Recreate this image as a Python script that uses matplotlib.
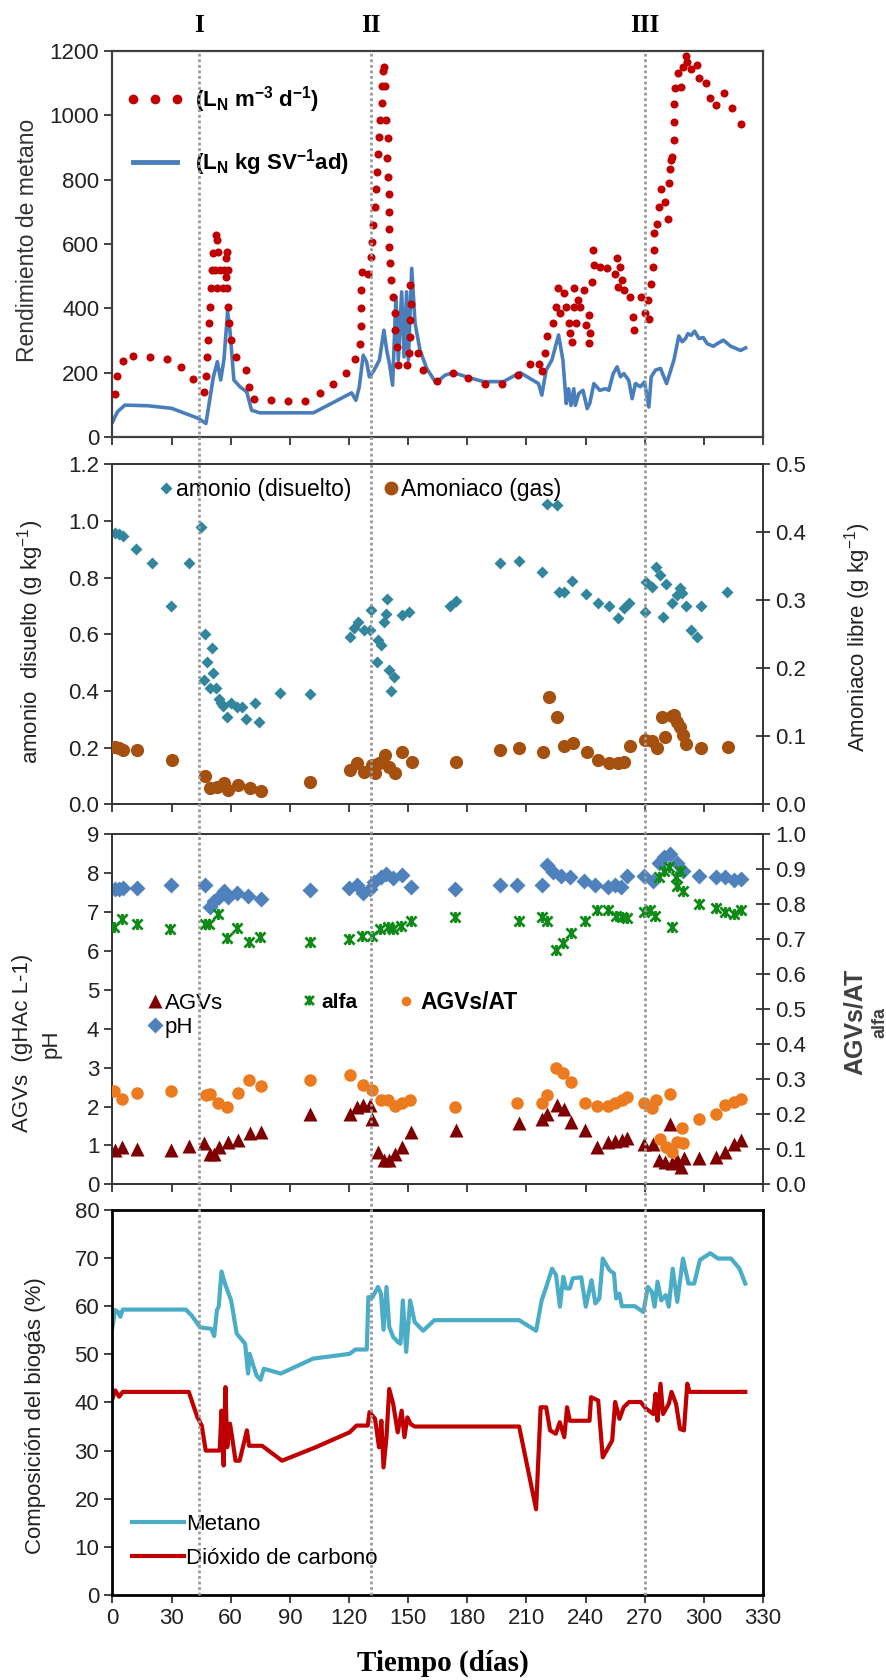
import matplotlib
matplotlib.use("Agg")
import matplotlib.pyplot as plt
from matplotlib.lines import Line2D
from matplotlib.path import Path
from matplotlib.transforms import blended_transform_factory

plt.rcParams["font.family"] = ["Liberation Sans", "DejaVu Sans"]
plt.rcParams["mathtext.fontset"] = "custom"
plt.rcParams["mathtext.rm"] = "Liberation Sans"
plt.rcParams["mathtext.bf"] = "Liberation Sans:bold"
plt.rcParams["mathtext.default"] = "regular"

# ===================== datos =====================
fases = [43.7, 131.3, 270.0]
fases_txt = ["I", "II", "III"]

# panel 1: rendimiento de metano
prod_x = [1.4, 2.3, 5.2, 10.6, 18.9, 27.5, 34.7, 40.7, 46.6, 47.4, 48.1, 48.6, 49.0, 49.5, 49.9,
          50.5, 51.2, 52.5, 53.0, 53.7, 52.0, 54.5, 53.2, 55.9, 57.9, 56.6, 58.8, 57.6, 58.3, 57.5,
          58.8, 59.3, 60.2, 62.6, 67.7, 69.2, 71.8, 80.3, 89.1, 97.9, 105.2, 111.9, 118.7, 122.9,
          125.5, 126.0, 126.0, 126.3, 126.8, 129.4, 131.1, 131.9, 132.4, 133.1, 133.6, 134.0, 134.5,
          135.3, 135.6, 136.5, 136.8, 137.3, 137.5, 138.1, 139.0, 139.8, 139.5, 139.8, 140.2, 140.3,
          140.3, 140.3, 140.8, 141.5, 142.4, 143.2, 143.2, 144.1, 144.9, 149.6, 150.3, 150.8, 150.8,
          151.6, 150.8, 155.0, 157.6, 164.5, 172.6, 180.6, 189.1, 197.5, 205.5, 211.9, 216.6, 217.8,
          219.5, 220.3, 223.7, 225.1, 225.8, 227.2, 228.9, 230.2, 231.4, 232.3, 233.1, 234.0, 234.3,
          235.3, 236.0, 237.3, 239.0, 240.4, 241.6, 242.4, 241.6, 243.5, 244.0, 244.4, 247.1, 250.8,
          255.9, 255.0, 257.5, 258.4, 256.4, 259.7, 262.6, 264.3, 264.8, 268.1, 270.1, 271.5, 272.3,
          273.1, 274.0, 274.5, 274.8, 276.2, 277.4, 278.3, 280.3, 281.6, 282.5, 283.0, 283.4, 283.7,
          285.0, 285.0, 285.0, 285.5, 288.4, 287.0, 289.2, 290.9, 291.7, 293.7, 296.4, 297.6, 301.0,
          303.2, 306.1, 310.0, 314.5, 318.8]
prod_y = [134, 188, 235, 253, 248, 243, 216, 180, 139, 191, 249, 302, 354, 405, 463,
          519, 571, 628, 612, 576, 519, 519, 462, 462, 462, 519, 519, 498, 576, 555,
          405, 354, 302, 249, 208, 156, 117, 114, 112, 111, 137, 166, 199, 243,
          289, 346, 401, 457, 512, 507, 559, 606, 658, 715, 772, 824, 881,
          933, 985, 1039, 1091, 1138, 1150, 1091, 985, 928, 867, 809, 756, 700,
          646, 592, 540, 488, 436, 385, 333, 281, 223, 223, 260, 311, 363,
          414, 471, 260, 208, 175, 198, 182, 166, 166, 192, 226, 228, 206,
          260, 314, 355, 405, 462, 384, 447, 405, 353, 322, 296, 462, 405,
          353, 426, 405, 457, 349, 380, 322, 291, 482, 580, 534, 529, 524,
          555, 508, 529, 487, 467, 456, 435, 373, 332, 435, 384, 425, 368,
          477, 529, 580, 633, 663, 716, 770, 730, 678, 788, 834, 860, 871,
          924, 979, 1034, 1085, 1088, 1130, 1149, 1185, 1164, 1143, 1155, 1117, 1101,
          1055, 1032, 1068, 1023, 974]

rend_x = [0.1, 2.5, 6.3, 18, 30, 43.5, 47.4, 51.2, 53.2, 54.9, 56.6, 58.4, 59.6, 61.6, 64.7, 68.1,
          70.6, 74.8, 101.9, 121.3, 123.5, 125.2, 127.2, 128.9, 130.3, 132.3, 135.4, 137.7, 139.1,
          140.5, 142.1, 143.8, 145.0, 146.7, 147.9, 149.2, 150.1, 151.8, 153.5, 156.0, 159.4, 164.1,
          168.7, 172.9, 180.6, 188.2, 198.3, 206.8, 216.1, 217.8, 220.0, 222.9, 226.3, 228.5, 230.2,
          231.4, 232.6, 234.0, 234.8, 236.5, 238.7, 240.8, 242.1, 244.2, 247.2, 250.1, 251.8, 254.0,
          256.0, 257.7, 259.4, 261.9, 263.6, 265.3, 267.8, 269.9, 272.1, 273.3, 275.5, 278.0, 281.1,
          284.8, 287.3, 289.0, 290.7, 291.9, 293.6, 295.3, 297.5, 299.7, 301.7, 304.8, 306.8, 309.9,
          313.6, 318.6, 321.2]
rend_y = [47, 78, 99, 97, 89, 58, 42, 187, 234, 177, 243, 390, 330, 177, 156, 140,
          83, 75, 75, 137, 114, 156, 254, 234, 187, 203, 239, 332, 270,
          228, 161, 436, 239, 451, 249, 451, 239, 524, 353, 270, 213, 168,
          192, 200, 185, 172, 172, 200, 166, 130, 208, 239, 317, 239, 104,
          150, 98, 150, 98, 135, 145, 88, 104, 166, 145, 150, 145, 197,
          218, 187, 197, 176, 119, 166, 156, 171, 93, 187, 208, 213, 166,
          239, 314, 296, 306, 321, 316, 329, 306, 309, 290, 282, 290, 301,
          282, 269, 277]

# panel 2: amonio / amoniaco
amonio_x = [1.4, 3.4, 5.2, 12.0, 20.0, 29.5, 38.7, 44.7, 47.0, 46.4, 48.1, 50.4, 51.0, 49.6, 52.4,
            53.9, 55.0, 56.2, 57.9, 60.2, 63.0, 65.9, 67.9, 72.2, 74.5, 85.1, 100.0, 120.3, 122.6,
            124.6, 127.5, 130.4, 131.0, 134.7, 136.2, 134.1, 137.5, 139.0, 139.2, 140.4, 142.7,
            141.2, 146.7, 150.4, 171.0, 174.5, 196.8, 206.2, 217.7, 220.5, 225.3, 226.3, 229.0,
            233.3, 240.4, 246.4, 252.0, 256.4, 259.3, 262.1, 270.0, 270.7, 273.6, 275.7, 278.0,
            279.3, 281.0, 283.6, 286.5, 288.0, 288.8, 290.8, 293.7, 296.6, 298.5, 311.7]
amonio_y = [0.958, 0.955, 0.946, 0.899, 0.85, 0.70, 0.85, 0.979, 0.60, 0.44, 0.503, 0.553, 0.462,
            0.409, 0.409, 0.370, 0.358, 0.348, 0.309, 0.356, 0.344, 0.344, 0.301, 0.358, 0.291,
            0.391, 0.389, 0.591, 0.621, 0.644, 0.615, 0.615, 0.685, 0.579, 0.562, 0.503, 0.644,
            0.673, 0.723, 0.474, 0.448, 0.401, 0.668, 0.679, 0.700, 0.717, 0.85, 0.859, 0.818,
            1.059, 1.055, 0.75, 0.75, 0.789, 0.742, 0.709, 0.70, 0.656, 0.691, 0.709, 0.679,
            0.785, 0.767, 0.838, 0.809, 0.662, 0.777, 0.711, 0.738, 0.762, 0.744, 0.70, 0.615,
            0.591, 0.70, 0.75]

amoniaco_x = [1.4, 3.4, 5.2, 12.3, 30.1, 46.7, 49.3, 53.0, 56.7, 58.7, 63.6, 69.6, 75.3, 100.0,
              120.3, 124.0, 127.5, 131.8, 133.2, 135.2, 138.4, 140.4, 143.3, 147.0, 151.9, 174.5,
              196.8, 206.2, 218.3, 221.2, 225.5, 229.2, 233.5, 240.7, 246.4, 252.0, 256.4, 259.3,
              262.7, 270.0, 273.6, 276.0, 278.6, 280.3, 283.6, 285.0, 286.5, 288.0, 289.4, 290.8,
              298.5, 312.3]
amoniaco_y = [0.0837, 0.0823, 0.0798, 0.0798, 0.0651, 0.0416, 0.0235, 0.026, 0.031, 0.021, 0.028,
              0.0235, 0.0196, 0.0333, 0.0504, 0.0612, 0.048, 0.0578, 0.0455, 0.0602, 0.0725,
              0.0553, 0.0465, 0.0774, 0.0627, 0.0627, 0.0798, 0.0823, 0.0774, 0.157, 0.128, 0.0857,
              0.0896, 0.0774, 0.0651, 0.0612, 0.0602, 0.0627, 0.0857, 0.0945, 0.0935, 0.0823,
              0.1288, 0.0994, 0.130, 0.131, 0.1215, 0.113, 0.102, 0.088, 0.0823, 0.0847]

# panel 3: pH, AGVs, alfa, AGVs/AT
ph_x = [1.4, 3.4, 5.2, 12.3, 29.5, 46.7, 49.3, 51.6, 53.9, 56.7, 58.7, 63.0, 68.8, 75.1, 100.0,
        119.8, 123.8, 126.9, 130.4, 132.7, 136.2, 139.0, 142.4, 146.7, 151.3, 173.9, 196.8, 205.4,
        217.7, 220.6, 223.4, 227.7, 232.0, 239.2, 244.9, 251.5, 254.9, 257.8, 261.2, 269.8, 274.4,
        277.0, 279.8, 283.0, 286.5, 289.4, 297.4, 306.0, 310.9, 315.2, 318.7]
ph_y = [7.59, 7.59, 7.62, 7.62, 7.68, 7.68, 7.14, 7.29, 7.38, 7.55, 7.38, 7.50, 7.42, 7.33, 7.56,
        7.62, 7.70, 7.50, 7.59, 7.76, 7.89, 7.97, 7.87, 7.96, 7.65, 7.59, 7.68, 7.68,
        7.68, 8.21, 8.02, 7.93, 7.89, 7.80, 7.68, 7.65, 7.68, 7.65, 7.93, 7.93, 7.80,
        8.27, 8.40, 8.49, 8.27, 8.06, 7.93, 7.91, 7.89, 7.82, 7.85]

agv_x = [1.4, 4.9, 12.3, 29.5, 38.7, 46.4, 49.3, 51.6, 53.9, 58.7, 63.6, 69.6, 75.1, 100.0, 120.3,
         123.8, 126.9, 130.4, 131.8, 134.7, 137.5, 140.4, 143.3, 146.7, 151.3, 174.2, 206.2, 217.7,
         220.6, 225.5, 229.2, 232.6, 239.8, 245.9, 251.5, 254.9, 258.4, 261.2, 269.8, 274.4, 277.3,
         280.2, 283.0, 283.6, 286.5, 288.5, 289.9, 297.7, 306.0, 310.9, 315.2, 318.7]
agv_y = [0.88, 0.97, 0.90, 0.88, 0.98, 1.07, 0.78, 0.79, 0.97, 1.09, 1.15, 1.32, 1.35, 1.82, 1.82,
         1.99, 2.03, 2.03, 1.67, 0.84, 0.62, 0.62, 0.79, 0.97, 1.35, 1.39, 1.58, 1.69,
         1.82, 2.03, 1.95, 1.61, 1.39, 0.97, 1.09, 1.12, 1.15, 1.18, 1.05, 1.05, 0.62,
         0.58, 1.56, 0.54, 0.62, 0.45, 0.67, 0.67, 0.71, 0.84, 1.05, 1.14]

alfa_x = [0.6, 4.9, 12.3, 29.2, 47.0, 49.0, 53.3, 57.9, 63.3, 69.3, 74.8, 100.0, 120.1, 126.7,
          131.6, 135.9, 139.6, 142.4, 146.4, 151.2, 173.9, 206.2, 217.9, 220.6, 224.9, 228.3,
          232.6, 239.8, 245.9, 251.5, 255.5, 258.4, 261.2, 269.8, 272.6, 275.0, 277.3, 279.9,
          282.2, 283.6, 285.7, 288.0, 286.5, 289.4, 297.4, 306.0, 310.9, 315.2, 318.7]
alfa_y = [0.736, 0.758, 0.742, 0.729, 0.742, 0.742, 0.772, 0.704, 0.732, 0.691, 0.706, 0.691,
          0.701, 0.710, 0.710, 0.729, 0.736, 0.729, 0.739, 0.751, 0.763, 0.751, 0.763, 0.751,
          0.668, 0.689, 0.717, 0.751, 0.783, 0.782, 0.767, 0.763, 0.761, 0.777, 0.783, 0.767,
          0.878, 0.896, 0.905, 0.736, 0.877, 0.896, 0.853, 0.839, 0.801, 0.789, 0.777, 0.772,
          0.782]

agvat_x = [0.6, 4.9, 12.3, 29.5, 47.3, 49.3, 53.6, 58.2, 63.6, 69.3, 75.1, 100.0, 120.3, 126.9,
           131.8, 136.2, 139.6, 143.3, 146.7, 151.0, 173.9, 205.4, 217.7, 220.6, 224.9, 228.6,
           232.6, 239.8, 245.9, 251.5, 254.9, 258.4, 261.2, 269.8, 273.6, 275.7, 278.0, 280.9,
           283.0, 283.6, 286.5, 288.8, 289.4, 297.4, 306.0, 310.9, 315.2, 318.7]
agvat_y = [0.267, 0.245, 0.261, 0.267, 0.255, 0.259, 0.231, 0.221, 0.261, 0.297, 0.280, 0.299,
           0.311, 0.283, 0.269, 0.242, 0.242, 0.223, 0.231, 0.242, 0.221, 0.233, 0.233, 0.255,
           0.333, 0.318, 0.292, 0.231, 0.223, 0.223, 0.233, 0.240, 0.250, 0.231, 0.217, 0.240,
           0.131, 0.107, 0.259, 0.093, 0.122, 0.160, 0.119, 0.188, 0.202, 0.226, 0.236, 0.245]

# panel 4: composicion del biogas
met_x = [0, 1.4, 2.9, 4.0, 5.2, 37.2, 40.1, 44.5, 50.1, 51.6, 53.0, 53.9, 55.3, 57.3, 60.2, 63.0,
         67.3, 68.8, 69.6, 71.1, 73.1, 75.1, 76.8, 85.4, 101.7, 120.3, 123.2, 129.0, 129.8, 131.8,
         134.7, 136.2, 137.5, 139.0, 140.4, 142.4, 144.7, 146.1, 147.3, 149.0, 151.0, 153.3, 157.6,
         163.3, 206.3, 214.9, 217.7, 219.8, 223.0, 225.0, 227.0, 228.7, 230.1, 232.0, 233.5, 237.8,
         240.1, 243.0, 245.0, 247.0, 248.7, 252.1, 254.4, 255.5, 257.2, 258.4, 265.0, 269.3, 271.6,
         273.6, 275.0, 276.5, 278.4, 280.7, 282.2, 284.2, 286.5, 289.4, 292.2, 295.1, 298.0, 303.2,
         307.2, 313.8, 318.1, 321.0]
met_y = [55.7, 59.2, 58.8, 57.8, 59.3, 59.3, 58.1, 55.6, 55.3, 53.8, 59.2, 59.9, 67.2, 64.4, 61.2,
         54.3, 52.2, 46.0, 50.1, 48.1, 45.6, 44.7, 47.0, 46.0, 49.1, 50.1, 51.0, 51.0, 61.9, 61.8,
         64.0, 62.6, 55.1, 64.0, 55.7, 53.6, 52.6, 52.2, 61.2, 50.5, 61.2, 56.7, 54.9,
         57.1, 57.1, 54.9, 61.2, 63.7, 67.8, 66.5, 59.9, 66.1, 63.7, 63.7, 65.8, 66.0,
         59.9, 65.4, 60.6, 61.6, 69.9, 67.5, 66.8, 61.6, 62.6, 60.0, 60.0, 58.8, 64.0,
         63.0, 59.9, 65.1, 61.2, 62.3, 59.9, 67.8, 60.9, 69.9, 64.7, 64.7, 69.6, 71.0,
         69.9, 69.9, 67.8, 64.7]

co2_x = [0, 1.4, 3.4, 5.2, 38.7, 43.0, 45.3, 47.3, 54.4, 55.3, 56.4, 57.3, 58.2, 59.6, 60.7, 62.4,
         64.5, 68.2, 69.3, 75.9, 86.0, 103.1, 120.3, 123.8, 129.5, 130.4, 133.2, 135.2, 136.4,
         137.5, 139.0, 140.4, 142.4, 144.7, 146.7, 148.1, 149.6, 151.3, 153.3, 206.3, 214.9, 217.2,
         220.0, 222.0, 224.9, 226.9, 229.2, 230.6, 232.0, 242.0, 242.8, 246.4, 248.7, 253.5, 255.0,
         257.2, 259.3, 262.1, 267.9, 270.7, 274.4, 275.5, 276.5, 278.0, 279.3, 282.2, 283.6, 285.9,
         287.9, 289.9, 291.6, 292.7, 321.0]
co2_y = [40.8, 42.5, 41.2, 42.2, 42.2, 37.0, 35.2, 30.0, 30.0, 38.3, 26.9, 43.2, 30.7, 35.6, 32.8,
         27.9, 27.9, 34.2, 31.0, 31.0, 27.9, 30.7, 33.8, 35.2, 35.2, 38.0, 36.6, 30.7, 36.2,
         26.5, 32.8, 42.8, 39.7, 33.8, 38.3, 32.8, 36.9, 35.5, 35.0, 35.0, 17.8, 39.0,
         39.0, 34.2, 33.5, 35.9, 32.8, 39.0, 36.2, 36.2, 41.1, 40.4, 28.6, 32.1, 40.1,
         36.6, 39.0, 40.1, 40.1, 38.7, 37.6, 41.8, 36.2, 43.9, 37.6, 39.7, 42.2, 39.7,
         34.5, 34.2, 43.9, 42.2, 42.2]

# ===================== figura =====================
fig = plt.figure(figsize=(8.87, 16.8), dpi=100)
L, W = 0.1268, 0.7334
ax1 = fig.add_axes([L, 0.7399, W, 0.2298])
ax2 = fig.add_axes([L, 0.5213, W, 0.2024])
ax3 = fig.add_axes([L, 0.2950, W, 0.2085])
ax4 = fig.add_axes([L, 0.0506, W, 0.2292])
ax2b = ax2.twinx()
ax3b = ax3.twinx()

TICK = 16
for ax in [ax1, ax2, ax3, ax4]:
    ax.set_xlim(0, 330)
    ax.set_xticks(range(0, 331, 30))
    ax.tick_params(direction="out", length=6, width=1.2, labelsize=TICK, colors="#222222")
    if ax is not ax4:
        ax.tick_params(axis="x", labelbottom=False)

# --- panel 1 ---
ax1.plot(prod_x, prod_y, "o", color="#C00000", ms=5.8, mec="none", zorder=3)
ax1.plot(rend_x, rend_y, "-", color="#4A7EBB", lw=2.6, zorder=2)
ax1.set_ylim(0, 1200)
ax1.set_yticks(range(0, 1201, 200))
for s in ax1.spines.values():
    s.set_color("#404040")
    s.set_linewidth(1.6)
h1 = Line2D([], [], marker="o", ls="none", color="#C00000", ms=7, mec="none")
h2 = Line2D([], [], ls="-", color="#4A7EBB", lw=3.5)
ax1.legend([h1, h2], [r"(L$_\mathbf{N}$ m$^\mathbf{-3}$ d$^\mathbf{-1}$)",
                      r"(L$_\mathbf{N}$ kg SV$^\mathbf{-1}$ad)"],
           loc="upper left", bbox_to_anchor=(-0.01, 0.965), frameon=False,
           numpoints=3, handlelength=2.6, handletextpad=0.5, labelspacing=1.45,
           prop={"size": 16, "weight": "bold"})

# --- panel 2 ---
ax2.plot(amonio_x, amonio_y, "D", color="#31859C", ms=6.5, mec="none", zorder=3)
ax2b.plot(amoniaco_x, amoniaco_y, "o", color="#A5500F", ms=9.5, mec="none", zorder=3)
ax2.set_ylim(0, 1.2)
ax2.set_yticks([0, 0.2, 0.4, 0.6, 0.8, 1.0, 1.2])
ax2.set_yticklabels(["%.1f" % v for v in [0, 0.2, 0.4, 0.6, 0.8, 1.0, 1.2]])
ax2b.set_ylim(0, 0.5)
ax2b.set_yticks([0, 0.1, 0.2, 0.3, 0.4, 0.5])
ax2b.set_yticklabels(["%.1f" % v for v in [0, 0.1, 0.2, 0.3, 0.4, 0.5]])
ax2b.tick_params(axis="y", direction="inout", length=10, width=1.2, labelsize=TICK, colors="#222222")
hA = Line2D([], [], marker="D", ls="none", color="#31859C", ms=6.5, mec="none")
hB = Line2D([], [], marker="o", ls="none", color="#A5500F", ms=10, mec="none")
ax2.legend([hA, hB], ["amonio (disuelto)", "Amoniaco (gas)"], loc="upper left",
           bbox_to_anchor=(0.04, 1.02), ncol=2, frameon=False, handlelength=0.6,
           handletextpad=0.15, columnspacing=1.4, fontsize=16.5)

# --- panel 3 ---
alfa_marker = Path([(-1, -1), (1, 1), (-1, 1), (1, -1), (0, -1.1), (0, 1.1)],
                   [Path.MOVETO, Path.LINETO] * 3)
ax3.plot(agv_x, agv_y, "^", color="#7F0000", ms=10, mec="none", zorder=3)
ax3.plot(ph_x, ph_y, "D", color="#4F81BD", ms=8.5, mec="none", zorder=3)
ax3b.plot(alfa_x, alfa_y, ls="none", marker=alfa_marker, ms=8, mfc="none", mec="#0E8A16",
          mew=2.0, zorder=3)
ax3b.plot(agvat_x, agvat_y, "o", color="#EC7A1E", ms=9, mec="none", zorder=3)
ax3.set_ylim(0, 9)
ax3.set_yticks(range(0, 10))
ax3b.set_ylim(0, 1.0)
ax3b.set_yticks([i / 10 for i in range(11)])
ax3b.set_yticklabels(["%.1f" % (i / 10) for i in range(11)])
ax3b.tick_params(axis="y", direction="inout", length=10, width=1.2, labelsize=TICK, colors="#222222")

hG = Line2D([], [], marker="^", ls="none", color="#7F0000", ms=10, mec="none")
hP = Line2D([], [], marker="D", ls="none", color="#4F81BD", ms=8.5, mec="none")
hF = Line2D([], [], marker=alfa_marker, ls="none", ms=7, mfc="none", mec="#0E8A16", mew=2.0)
hR = Line2D([], [], marker="o", ls="none", color="#EC7A1E", ms=7, mec="none")
legA = ax3.legend([hG, hP], ["AGVs", "pH"], loc="center left", bbox_to_anchor=(0.055, 0.482),
                  frameon=False, handlelength=0.6, handletextpad=0.15, labelspacing=0.15,
                  borderaxespad=0, borderpad=0, fontsize=16)
ax3.add_artist(legA)
legB = ax3.legend([hF], ["alfa"], loc="center left", bbox_to_anchor=(0.293, 0.52),
                  frameon=False, handlelength=0.6, handletextpad=0.3, borderaxespad=0,
                  borderpad=0, prop={"size": 15, "weight": "bold"})
ax3.add_artist(legB)
ax3.legend([hR], ["AGVs/AT"], loc="center left", bbox_to_anchor=(0.44, 0.52),
           frameon=False, handlelength=0.6, handletextpad=0.35, borderaxespad=0,
           borderpad=0, prop={"size": 16.5, "weight": "bold"})

# --- panel 4 ---
ax4.plot(met_x, met_y, "-", color="#4BACC6", lw=3.0, label="Metano")
ax4.plot(co2_x, co2_y, "-", color="#C00000", lw=3.0, label="Dióxido de carbono")
ax4.set_ylim(0, 80)
ax4.set_yticks(range(0, 81, 10))
for s in ax4.spines.values():
    s.set_color("black")
    s.set_linewidth(2.0)
ax4.legend(loc="lower left", bbox_to_anchor=(0.0, 0.015), frameon=False, handlelength=2.3,
           handletextpad=0.1, labelspacing=0.6, fontsize=16)

for ax in [ax2, ax3, ax2b, ax3b]:
    for s in ax.spines.values():
        s.set_color("#333333")
        s.set_linewidth(1.2)

# ===================== textos =====================
fig.text(28 / 887, 1 - 240 / 1680, "Rendimiento de metano", rotation=90, ha="center",
         va="center", fontsize=16.5, color="#333333")
fig.text(31 / 887, 1 - 642 / 1680, r"amonio  disuelto (g kg$^{-1}$)", rotation=90, ha="center",
         va="center", fontsize=16, color="#222222")
fig.text(858 / 887, 1 - 637 / 1680, r"Amoniaco libre (g kg$^{-1}$)", rotation=90, ha="center",
         va="center", fontsize=16, color="#222222")
fig.text(23 / 887, 1 - 1043 / 1680, "AGVs  (gHAc L-1)", rotation=90, ha="center", va="center",
         fontsize=16, color="#222222")
fig.text(51 / 887, 1 - 1044 / 1680, "pH", rotation=90, ha="center", va="center",
         fontsize=16, color="#222222")
fig.text(855 / 887, 1 - 1022 / 1680, "AGVs/AT", rotation=90, ha="center", va="center",
         fontsize=18, fontweight="bold", color="#404040")
fig.text(880 / 887, 1 - 1022 / 1680, "alfa", rotation=90, ha="center", va="center",
         fontsize=13, fontweight="bold", color="#404040")
fig.text(36 / 887, 1 - 1416 / 1680, "Composición del biogás (%)", rotation=90, ha="center",
         va="center", fontsize=16, color="#222222")
fig.text(443 / 887, 1 - 1663 / 1680, "Tiempo (días)", ha="center", va="center", fontsize=21,
         fontweight="bold", family=["Liberation Serif", "DejaVu Serif"])

trans = blended_transform_factory(ax4.transData, fig.transFigure)
for xv, t in zip(fases, fases_txt):
    fig.add_artist(Line2D([xv, xv], [0.0506, 0.9696], transform=trans, color="#9A9A9A",
                          lw=2.0, linestyle=(0, (1, 1))))
    fig.text(xv, 1 - 25 / 1680, t, transform=trans, ha="center", va="center", fontsize=18,
             fontweight="bold", family=["Liberation Serif", "DejaVu Serif"])

fig.savefig("out.png", dpi=100)
